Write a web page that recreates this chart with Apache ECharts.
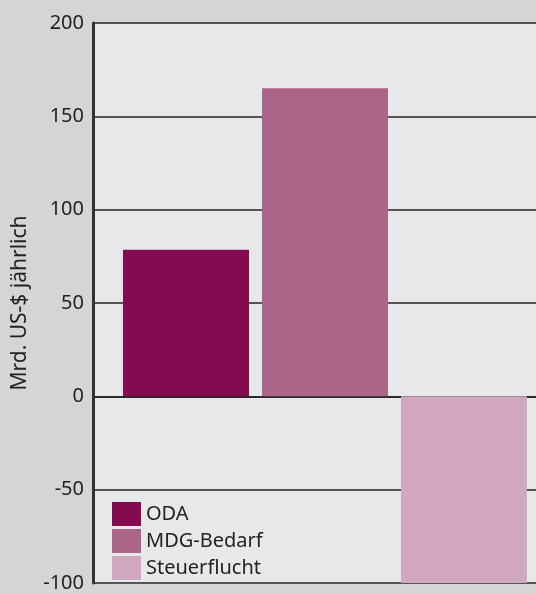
<!DOCTYPE html>
<html>
<head>
<meta charset="utf-8">
<script src="https://cdn.jsdelivr.net/npm/echarts@6/dist/echarts.min.js"></script>
<style>
  html, body { margin: 0; padding: 0; background: #d4d5d7; overflow: hidden; }
  /* Plotfläche läuft rechts über den Rand hinaus */
  #chart { width: 557px; height: 593px; }
</style>
</head>
<body>
<div id="chart"></div>
<script>
/* Daten */
var categories = ['Gesamt'];
var seriesNames = ['ODA', 'MDG-Bedarf', 'Steuerflucht'];
var seriesValues = [[78.5], [165], [-100]];
var seriesColors = ['#840b50', '#ab6589', '#d1a7bf'];
var yTicks = { min: -100, max: 200, interval: 50 };
var yName = 'Mrd. US-$ jährlich';

var font = '"Noto Sans", "Open Sans", sans-serif';

var series = seriesNames.map(function (name, i) {
    return {
        name: name,
        type: 'bar',
        data: seriesValues[i],
        barWidth: 126,
        barGap: '10.3%',
        itemStyle: { color: seriesColors[i] }
    };
});

var myChart = echarts.init(document.getElementById('chart'));
myChart.setOption({
    backgroundColor: '#d4d5d7',
    animation: false,
    grid: {
        left: 93, right: 0, top: 23, bottom: 7,
        show: true, backgroundColor: '#e7e8ea', borderWidth: 0
    },
    legend: {
        left: 107, top: 497, orient: 'vertical',
        itemWidth: 29, itemHeight: 24, itemGap: 3,
        icon: 'rect',
        textStyle: { fontFamily: font, fontSize: 20, color: '#222' },
        data: seriesNames
    },
    xAxis: {
        type: 'category',
        data: categories,
        axisLine: { onZero: true, lineStyle: { color: '#2a2a2a', width: 2 } },
        axisTick: { show: false },
        axisLabel: { show: false }
    },
    yAxis: {
        type: 'value',
        min: yTicks.min, max: yTicks.max, interval: yTicks.interval,
        name: yName,
        nameLocation: 'middle',
        nameGap: 62,
        nameTextStyle: { fontFamily: font, fontSize: 21, color: '#222' },
        axisLine: { show: true, lineStyle: { color: '#333', width: 3 } },
        axisTick: { show: false },
        axisLabel: { fontFamily: font, fontSize: 20, color: '#222', margin: 9 },
        splitLine: { lineStyle: { color: '#555', width: 2 } }
    },
    series: series
});
</script>
</body>
</html>
